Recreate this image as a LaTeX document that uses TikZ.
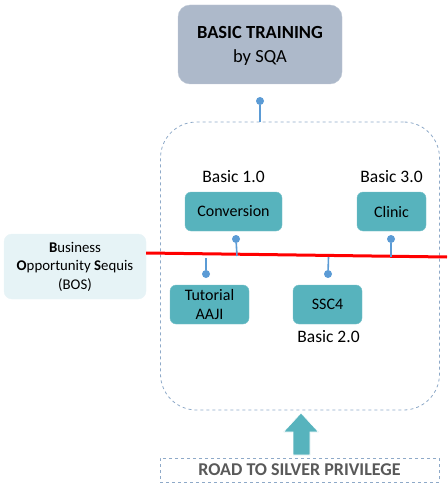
\documentclass[tikz,border=0pt]{standalone}
\usepackage{fontspec}
\setmainfont{Carlito}
\usetikzlibrary{shapes.arrows}
\definecolor{topfill}{HTML}{ADB9CA}
\definecolor{teal}{HTML}{57B3BD}
\definecolor{bosfill}{HTML}{E6F3F6}
\definecolor{dotblue}{HTML}{5B9BD5}
\definecolor{dashblue}{HTML}{8EA9C8}
\definecolor{roadgray}{HTML}{595959}
\tikzset{
  topbox/.style={draw=topfill!80!white, fill=topfill, rounded corners=12pt, minimum width=164pt, minimum height=79pt, inner sep=0pt},
  tealbox/.style={fill=teal, draw=teal!80!white, rounded corners=6pt, minimum height=39pt, inner sep=0pt, font=\fontsize{16}{19}\selectfont, align=center},
  lbl/.style={font=\fontsize{17.5}{19}\selectfont, inner sep=0pt},
  dotc/.style={circle, fill=dotblue, inner sep=0pt, minimum size=8pt},
  stem/.style={draw=dotblue, line width=1.6pt},
  dashframe/.style={draw=dashblue, dashed, line width=0.8pt},
}
\begin{document}
\begin{tikzpicture}[x=1pt,y=-1pt]
\useasboundingbox (0,0) rectangle (447,489);
% container
\node[dashframe, rounded corners=36pt, minimum width=279pt, minimum height=288pt, inner sep=0pt] (cont) at (300,266) {};
% top box
\node[topbox] (top) at (260,44.5) {};
\node[font=\fontsize{18.5}{20}\selectfont\bfseries, inner sep=0pt] (t1) at (260,33) {BASIC TRAINING};
\node[font=\fontsize{18.5}{20}\selectfont, inner sep=0pt] (t2) at (260,58) {by SQA};
\node[dotc] (d0) at (260,101) {};
\draw[stem] (d0) -- (d0 |- cont.north);
% BOS
\node[fill=bosfill, draw=bosfill!90!white, rounded corners=8pt, minimum width=142pt, minimum height=65pt, inner sep=0pt, align=center, font=\fontsize{14.8}{18.5}\selectfont] (bos) at (75,266.5) {\textbf{B}usiness\\\textbf{O}pportunity \textbf{S}equis\\(BOS)};
% red line
\coordinate (rend) at (447,257);
\draw[red, line width=3pt] (bos.east |- 0,253) -- (rend);
% boxes
\node[tealbox, minimum width=97pt] (conv) at (233.5,211.5) {Conversion};
\node[lbl] (b1) at (233.5,177) {Basic 1.0};
\node[tealbox, minimum width=69pt] (clin) at (391.5,211.5) {Clinic};
\node[lbl] (b3) at (391.5,177) {Basic 3.0};
\node[tealbox, minimum width=79pt] (tut) at (209.5,304.5) {Tutorial\\AAJI};
\node[tealbox, minimum width=69pt] (ssc) at (327.5,304.5) {SSC4};
\node[lbl] (b2) at (328.5,337) {Basic 2.0};
% stems
\node[dotc] (d1) at (236,239) {};
\coordinate (e1) at (237,256);
\draw[stem] (d1) -- (e1);
\node[dotc] (d3) at (391,239) {};
\coordinate (e3) at (391,257);
\draw[stem] (d3) -- (e3);
\node[dotc] (d4) at (206,274) {};
\coordinate (e4) at (206,258);
\draw[stem] (d4) -- (e4);
\node[dotc] (d5) at (328,274) {};
\coordinate (e5) at (328.5,257);
\draw[stem] (d5) -- (e5);
% road
\node[dashframe, minimum width=279pt, minimum height=24pt, inner sep=0pt, text=roadgray, font=\fontsize{18}{19}\selectfont\bfseries] (road) at (299.5,470) {ROAD TO SILVER PRIVILEGE};
% arrow
\draw[fill=teal, draw=white, line width=0.6pt] (293,455) -- (293,432) -- (283.5,432) -- (301,413) -- (318.5,432) -- (310,432) -- (310,455) -- cycle;
\end{tikzpicture}
\end{document}
